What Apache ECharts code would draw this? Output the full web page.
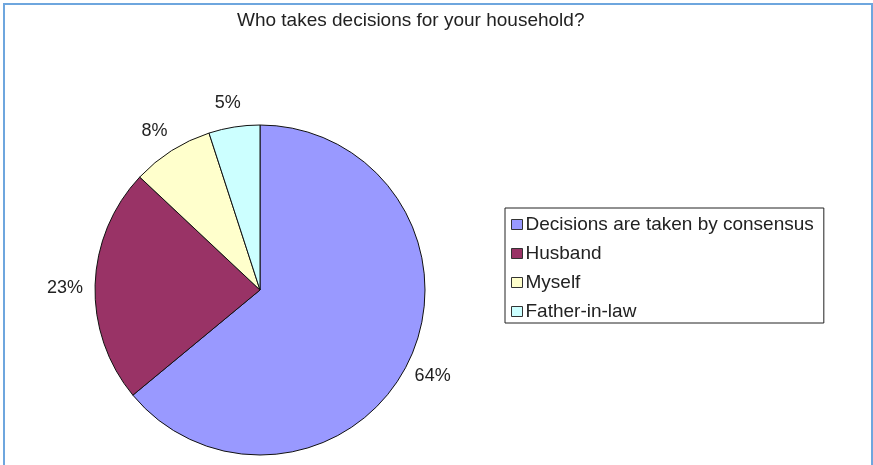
<!DOCTYPE html>
<html>
<head>
<meta charset="utf-8">
<script src="https://cdn.jsdelivr.net/npm/echarts@6/dist/echarts.min.js"></script>
<style>
  html, body { margin: 0; padding: 0; background: #ffffff; }
  #wrap { position: relative; width: 873px; height: 465px; overflow: hidden; }
  #chart { position: absolute; left: 0; top: 0; width: 873px; height: 465px; }
  #frame { position: absolute; left: 3px; top: 3px; width: 866px; height: 480px;
           border: 2px solid #6ea6de; pointer-events: none; }
</style>
</head>
<body>
<div id="wrap">
  <div id="chart"></div>
  <div id="frame"></div>
</div>
<script>
// Survey answers: who takes decisions for the household (percent of respondents)
const categories = [
  'Decisions are taken by consensus',
  'Husband',
  'Myself',
  'Father-in-law'
];
const shares = [64, 23, 8, 5];
const sliceColors = ['#9999ff', '#993366', '#ffffcc', '#ccffff'];
const titleText = 'Who takes decisions for your household?';

const FONT = "'Liberation Sans', Arial, sans-serif";

const pieData = categories.map((name, i) => ({
  name: name,
  value: shares[i],
  itemStyle: { color: sliceColors[i] }
}));

const chart = echarts.init(document.getElementById('chart'), null, { renderer: 'canvas' });

chart.setOption({
  animation: false,
  backgroundColor: '#ffffff',
  title: {
    text: titleText,
    left: 232,
    top: 6,
    textStyle: { fontFamily: FONT, fontSize: 19, fontWeight: 'normal', color: '#222222' }
  },
  legend: {
    orient: 'vertical',
    left: 505,
    top: 208,
    padding: [6, 10, 1, 6],
    backgroundColor: '#ffffff',
    borderColor: '#222222',
    borderWidth: 1,
    borderRadius: 0,
    itemWidth: 11,
    itemHeight: 10,
    itemGap: 8,
    icon: 'rect',
    data: categories,
    itemStyle: { borderColor: '#333333', borderWidth: 1 },
    textStyle: { fontFamily: FONT, fontSize: 19, color: '#222222', lineHeight: 21, padding: [0, 0, 0, -2] }
  },
  series: [
    {
      // the pie itself
      type: 'pie',
      center: [260, 290],
      radius: 165,
      startAngle: 90,
      clockwise: true,
      silent: true,
      itemStyle: { borderColor: '#111111', borderWidth: 1 },
      label: { show: false },
      labelLine: { show: false },
      data: pieData
    },
    {
      // invisible ring just outside the pie that carries the percentage labels
      type: 'pie',
      center: [260, 290],
      radius: [178, 202],
      startAngle: 90,
      clockwise: true,
      silent: true,
      itemStyle: { color: 'rgba(0,0,0,0)', borderWidth: 0 },
      label: {
        show: true,
        position: 'inside',
        formatter: '{c}%',
        offset: [-2, 4],
        fontFamily: FONT,
        fontSize: 18,
        color: '#222222'
      },
      labelLine: { show: false },
      data: categories.map((name, i) => ({ name: name, value: shares[i] }))
    }
  ]
});
</script>
</body>
</html>
